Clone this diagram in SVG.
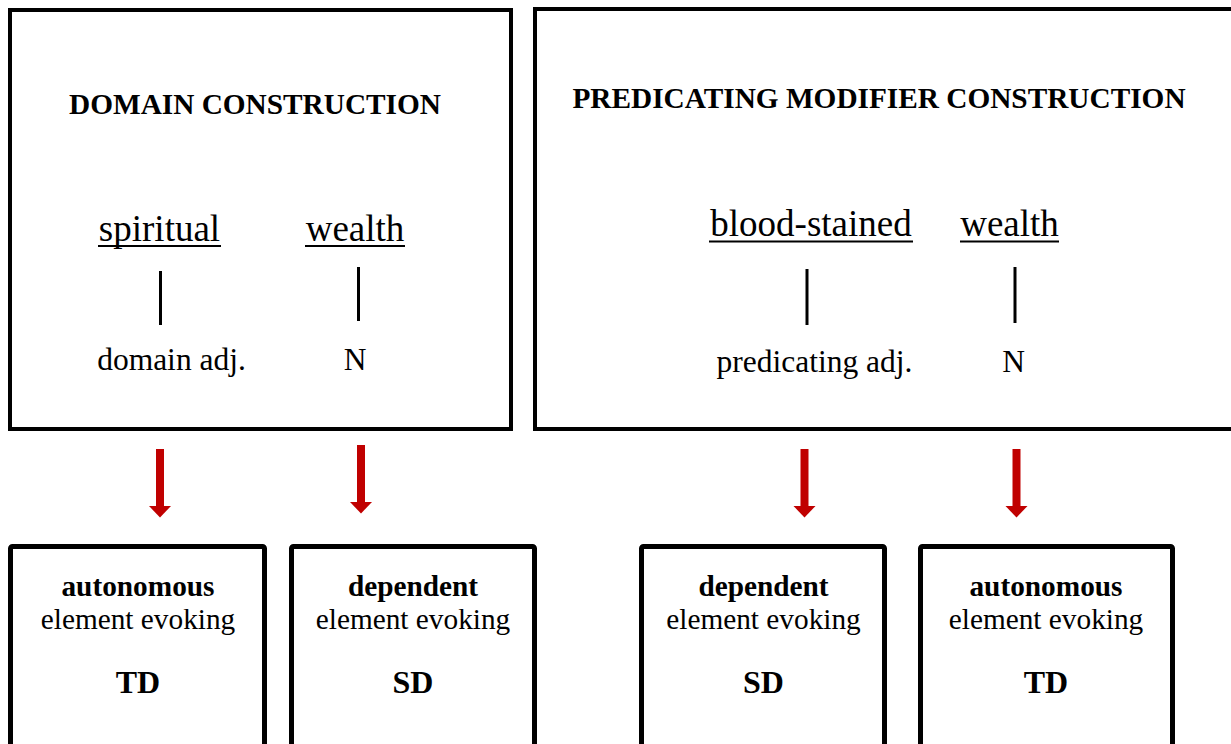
<svg xmlns="http://www.w3.org/2000/svg" width="1231" height="744" viewBox="0 0 1231 744">
  <defs>
    <style>
      .frame { fill: #ffffff; stroke: #000000; stroke-width: 4; }
      .card { fill: #ffffff; stroke: #000000; stroke-width: 5; }
      .title { font-family: "Liberation Serif", "Times New Roman", serif; font-weight: bold; font-size: 29.3px; text-anchor: middle; fill: #000; }
      .word { font-family: "Liberation Serif", "Times New Roman", serif; font-size: 37px; text-anchor: middle; fill: #000; }
      .cat { font-family: "Liberation Serif", "Times New Roman", serif; font-size: 31.5px; text-anchor: middle; fill: #000; }
      .bold { font-family: "Liberation Serif", "Times New Roman", serif; font-weight: bold; font-size: 29.3px; text-anchor: middle; fill: #000; }
      .plain { font-family: "Liberation Serif", "Times New Roman", serif; font-size: 29.3px; text-anchor: middle; fill: #000; }
      .big { font-family: "Liberation Serif", "Times New Roman", serif; font-weight: bold; font-size: 32px; text-anchor: middle; fill: #000; }
      .rule { stroke: #000; stroke-width: 2; }
      .tick { stroke: #000; stroke-width: 3; }
      .shaft { stroke: #c00000; stroke-width: 8; }
      .head { fill: #c00000; }
    </style>
  </defs>
  <rect width="1231" height="744" fill="#ffffff"/>

  <!-- Domain construction panel -->
  <g id="domain-construction">
    <rect class="frame" x="10" y="10" width="501" height="419"/>
    <text class="title" x="255" y="114">DOMAIN CONSTRUCTION</text>
    <text class="word" x="159.5" y="241">spiritual</text>
    <line class="rule" x1="98" y1="246" x2="221" y2="246"/>
    <text class="word" x="355" y="241">wealth</text>
    <line class="rule" x1="305" y1="246" x2="405" y2="246"/>
    <line class="tick" x1="160.5" y1="271" x2="160.5" y2="325"/>
    <line class="tick" x1="358.5" y1="267" x2="358.5" y2="321"/>
    <text class="cat" x="171.5" y="370">domain adj.</text>
    <text class="cat" x="355" y="370">N</text>
  </g>

  <!-- Predicating modifier construction panel -->
  <g id="predicating-construction">
    <rect class="frame" x="535" y="9" width="710" height="420"/>
    <text class="title" x="879" y="108">PREDICATING MODIFIER CONSTRUCTION</text>
    <text class="word" x="811" y="236">blood-stained</text>
    <line class="rule" x1="709" y1="241.5" x2="913" y2="241.5"/>
    <text class="word" x="1009.5" y="236">wealth</text>
    <line class="rule" x1="960" y1="241.5" x2="1059" y2="241.5"/>
    <line class="tick" x1="807" y1="269" x2="807" y2="325"/>
    <line class="tick" x1="1015" y1="267" x2="1015" y2="323"/>
    <text class="cat" x="814.5" y="372">predicating adj.</text>
    <text class="cat" x="1013.5" y="372">N</text>
  </g>

  <!-- Downward arrows -->
  <g id="connectors">
    <line class="shaft" x1="160" y1="449" x2="160" y2="507"/>
    <polygon class="head" points="149,506 171,506 160,517.5"/>
    <line class="shaft" x1="361" y1="445" x2="361" y2="503"/>
    <polygon class="head" points="350,502 372,502 361,513.5"/>
    <line class="shaft" x1="804.5" y1="449" x2="804.5" y2="507"/>
    <polygon class="head" points="793.5,506 815.5,506 804.5,517.5"/>
    <line class="shaft" x1="1016.5" y1="449" x2="1016.5" y2="507"/>
    <polygon class="head" points="1005.5,506 1027.5,506 1016.5,517.5"/>
  </g>

  <!-- Result cards -->
  <g id="card-autonomous-td-1">
    <rect class="card" x="10.5" y="546.5" width="254" height="220" rx="2"/>
    <text class="bold" x="138" y="596">autonomous</text>
    <text class="plain" x="138" y="629">element evoking</text>
    <text class="big" x="138" y="693">TD</text>
  </g>
  <g id="card-dependent-sd-1">
    <rect class="card" x="291.5" y="546.5" width="243" height="220" rx="2"/>
    <text class="bold" x="413" y="596">dependent</text>
    <text class="plain" x="413" y="629">element evoking</text>
    <text class="big" x="413" y="693">SD</text>
  </g>
  <g id="card-dependent-sd-2">
    <rect class="card" x="641.5" y="546.5" width="243" height="220" rx="2"/>
    <text class="bold" x="763.5" y="596">dependent</text>
    <text class="plain" x="763.5" y="629">element evoking</text>
    <text class="big" x="763.5" y="693">SD</text>
  </g>
  <g id="card-autonomous-td-2">
    <rect class="card" x="920.5" y="546.5" width="252" height="220" rx="2"/>
    <text class="bold" x="1046" y="596">autonomous</text>
    <text class="plain" x="1046" y="629">element evoking</text>
    <text class="big" x="1046" y="693">TD</text>
  </g>
</svg>
